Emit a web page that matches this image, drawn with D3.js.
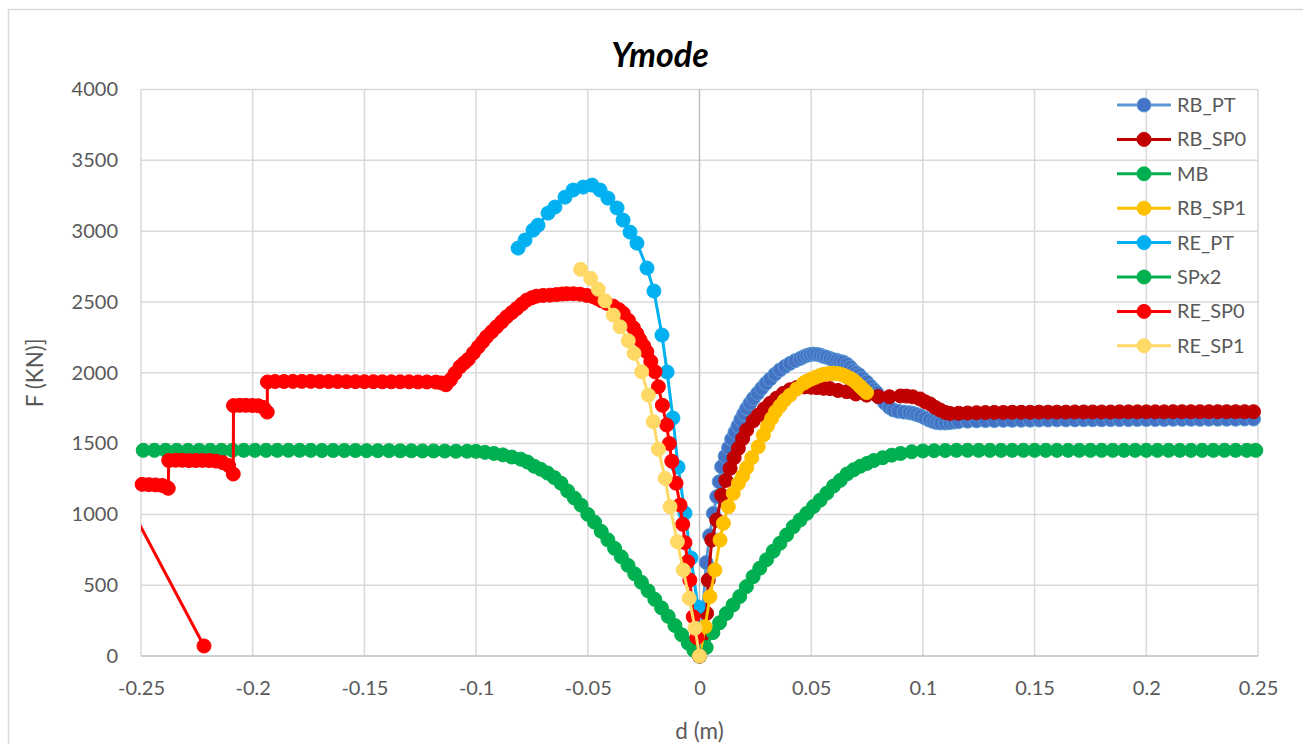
<!DOCTYPE html>
<html>
<head>
<meta charset="utf-8">
<script src="https://cdn.jsdelivr.net/npm/d3@7"></script>
<style>
  body { margin: 0; background: #fff; }
  text { font-family: Lato, "Open Sans", sans-serif; }
</style>
</head>
<body>
<div id="chart"></div>
<script>
// data points: [d (m), F (kN)], in the order they were recorded
const RB_PT = [[0,0],[0.0015,330],[0.003,660],[0.0045,850],[0.0062,1007],[0.0077,1125],[0.0088,1230],[0.0099,1336],
  [0.0115,1410],[0.013,1470],[0.0144,1530],[0.0159,1580],[0.0172,1625],[0.0185,1670],[0.0198,1710],[0.0211,1748],
  [0.0226,1785],[0.0241,1819],[0.026,1855],[0.0278,1890],[0.0297,1925],[0.0316,1955],[0.0338,1990],[0.036,2019],
  [0.0383,2045],[0.0405,2066],[0.0428,2085],[0.045,2100],[0.0465,2112],[0.048,2122],[0.0495,2128],[0.0509,2132],
  [0.0525,2130],[0.054,2125],[0.0555,2115],[0.0569,2110],[0.0585,2100],[0.06,2092],[0.0615,2088],[0.0629,2080],
  [0.0644,2075],[0.066,2060],[0.0675,2040],[0.0688,2015],[0.07,2000],[0.0715,1985],[0.073,1960],[0.0748,1935],
  [0.0765,1905],[0.078,1880],[0.0793,1860],[0.081,1820],[0.083,1785],[0.085,1755],[0.0868,1737],[0.089,1728],
  [0.0915,1722],[0.094,1718],[0.0957,1713],[0.0972,1705],[0.099,1695],[0.101,1680],[0.103,1665],[0.1047,1655],
  [0.1062,1648],[0.108,1645],[0.1101,1645],[0.1121,1648],[0.114,1652],[0.116,1655],[0.12,1658],[0.124,1660],
  [0.128,1662],[0.132,1662],[0.136,1664],[0.14,1664],[0.144,1665],[0.148,1665],[0.152,1666],[0.156,1666],
  [0.16,1667],[0.164,1667],[0.168,1667],[0.172,1668],[0.176,1668],[0.18,1668],[0.184,1669],[0.188,1669],
  [0.192,1669],[0.196,1670],[0.2,1670],[0.204,1670],[0.208,1670],[0.212,1671],[0.216,1671],[0.22,1671],
  [0.224,1671],[0.228,1672],[0.232,1672],[0.236,1672],[0.24,1672],[0.244,1673],[0.248,1673]];

const RB_SP0 = [[0,0],[0.0015,150],[0.0032,301],[0.0039,536],[0.0055,819],[0.0077,960],[0.0099,1136],[0.0118,1240],
  [0.0137,1325],[0.0155,1400],[0.0174,1466],[0.0193,1535],[0.0211,1595],[0.024,1660],[0.0263,1701],[0.029,1745],
  [0.0316,1784],[0.0345,1820],[0.0375,1854],[0.0405,1880],[0.0435,1895],[0.047,1900],[0.05,1898],[0.0525,1895],
  [0.0555,1890],[0.0584,1888],[0.062,1875],[0.0659,1866],[0.07,1850],[0.0748,1842],[0.08,1832],[0.085,1831],
  [0.09,1836],[0.0927,1835],[0.0955,1830],[0.0987,1815],[0.101,1795],[0.1032,1780],[0.1055,1755],[0.1077,1737],
  [0.11,1720],[0.1121,1713],[0.116,1714],[0.12,1716],[0.124,1718],[0.128,1719],[0.132,1720],[0.136,1720],
  [0.14,1721],[0.144,1721],[0.148,1721],[0.152,1722],[0.156,1722],[0.16,1722],[0.164,1722],[0.168,1723],
  [0.172,1723],[0.176,1723],[0.18,1723],[0.184,1723],[0.188,1724],[0.192,1724],[0.196,1724],[0.2,1724],
  [0.204,1724],[0.208,1724],[0.212,1725],[0.216,1725],[0.22,1725],[0.224,1725],[0.228,1725],[0.232,1725],
  [0.236,1725],[0.24,1725],[0.244,1725],[0.248,1725]];

const MB = [[0,0],[0.003,60],[0.006,165],[0.009,235],[0.012,300],[0.015,360],[0.018,420],[0.021,490],[0.024,560],
  [0.027,620],[0.03,680],[0.033,740],[0.036,796],[0.039,855],[0.042,913],[0.045,960],[0.048,1007],[0.051,1055],
  [0.054,1100],[0.057,1150],[0.06,1200],[0.063,1240],[0.066,1285],[0.069,1315],[0.072,1340],[0.075,1360],
  [0.078,1380],[0.082,1400],[0.086,1418],[0.09,1430],[0.095,1442],[0.1,1448],[0.105,1450],[0.11,1451],
  [0.115,1452],[0.12,1452],[0.125,1452],[0.13,1452],[0.135,1452],[0.14,1452],[0.145,1452],[0.15,1452],
  [0.155,1452],[0.16,1452],[0.165,1452],[0.17,1452],[0.175,1452],[0.18,1452],[0.185,1452],[0.19,1452],
  [0.195,1452],[0.2,1452],[0.205,1452],[0.21,1452],[0.215,1452],[0.22,1452],[0.225,1452],[0.23,1452],
  [0.235,1452],[0.24,1452],[0.245,1452],[0.249,1452]];

const RB_SP1 = [[0,0],[0.0025,207],[0.0047,419],[0.0069,607],[0.0092,819],[0.0107,937],[0.0129,1054],[0.0151,1148],
  [0.0174,1219],[0.0193,1270],[0.0211,1330],[0.0234,1400],[0.0263,1478],[0.0286,1560],[0.0305,1625],[0.0323,1678],
  [0.034,1725],[0.036,1765],[0.038,1805],[0.0405,1842],[0.0435,1885],[0.0465,1925],[0.048,1940],[0.05,1955],
  [0.052,1968],[0.0539,1980],[0.0555,1988],[0.057,1992],[0.0585,1995],[0.0599,1996],[0.0615,1994],[0.063,1990],
  [0.0645,1982],[0.0659,1972],[0.0675,1960],[0.0688,1948],[0.0703,1928],[0.0718,1905],[0.0733,1882],[0.0748,1860]];

const RE_PT = [[-0.0812,2880],[-0.0781,2937],[-0.0745,3007],[-0.0723,3042],[-0.0678,3127],[-0.0647,3170],
  [-0.0602,3240],[-0.0566,3290],[-0.0521,3311],[-0.0481,3325],[-0.0445,3290],[-0.041,3233],[-0.0369,3163],
  [-0.0342,3078],[-0.0311,2993],[-0.028,2915],[-0.0235,2739],[-0.0204,2577],[-0.0168,2266],[-0.0145,2005],
  [-0.0119,1680],[-0.0096,1334],[-0.0065,1009],[-0.0038,692],[-0.0007,346],[0,0]];

const SPx2 = [[-0.249,1452],[-0.244,1452],[-0.239,1452],[-0.234,1452],[-0.229,1452],[-0.224,1452],[-0.219,1452],
  [-0.214,1452],[-0.209,1452],[-0.204,1452],[-0.199,1452],[-0.194,1452],[-0.189,1452],[-0.184,1452],[-0.179,1452],
  [-0.174,1452],[-0.169,1451],[-0.164,1451],[-0.159,1451],[-0.154,1451],[-0.149,1450],[-0.144,1450],[-0.139,1450],
  [-0.134,1449],[-0.129,1449],[-0.124,1448],[-0.119,1448],[-0.114,1447],[-0.109,1446],[-0.104,1446],[-0.1,1445],
  [-0.096,1438],[-0.092,1430],[-0.088,1420],[-0.084,1405],[-0.08,1390],[-0.077,1370],[-0.074,1340],[-0.071,1318],
  [-0.068,1292],[-0.065,1260],[-0.062,1220],[-0.059,1165],[-0.056,1115],[-0.053,1065],[-0.05,1000],[-0.047,945],
  [-0.044,880],[-0.041,820],[-0.038,760],[-0.035,700],[-0.032,640],[-0.029,580],[-0.026,520],[-0.023,460],
  [-0.02,400],[-0.017,340],[-0.014,280],[-0.011,215],[-0.008,150],[-0.005,90],[-0.0025,40],[0,0]];

const RE_SP0 = [[-0.2218,71],[-0.26,1207],
  [-0.2495,1212],[-0.2465,1210],[-0.2435,1208],[-0.2405,1204],[-0.2385,1192],[-0.2378,1184],
  [-0.2376,1380],[-0.2345,1382],[-0.2315,1382],[-0.2285,1380],[-0.2255,1380],[-0.2225,1381],[-0.2195,1380],
  [-0.2165,1376],[-0.2135,1366],[-0.2108,1345],[-0.2087,1285],
  [-0.2086,1768],[-0.2058,1770],[-0.203,1770],[-0.2002,1769],[-0.1975,1767],[-0.1952,1755],[-0.1935,1722],
  [-0.1934,1935],[-0.19,1938],[-0.186,1938],[-0.182,1939],[-0.178,1939],[-0.174,1939],[-0.17,1938],[-0.166,1938],
  [-0.162,1938],[-0.158,1937],[-0.154,1937],[-0.15,1937],[-0.146,1937],[-0.142,1936],[-0.138,1936],[-0.134,1936],
  [-0.13,1936],[-0.126,1935],[-0.122,1935],[-0.118,1934],[-0.1155,1928],[-0.1135,1915],
  [-0.1115,1950],[-0.1095,1995],[-0.1072,2042],[-0.1053,2070],[-0.1035,2095],[-0.1012,2140],[-0.099,2183],
  [-0.097,2220],[-0.0953,2254],[-0.093,2290],[-0.0908,2325],[-0.0885,2360],[-0.0863,2395],[-0.084,2425],
  [-0.0818,2454],[-0.0795,2485],[-0.0773,2513],[-0.075,2530],[-0.0729,2541],[-0.07,2546],[-0.0669,2548],
  [-0.064,2552],[-0.0615,2556],[-0.0594,2558],[-0.0565,2558],[-0.0535,2555],[-0.0505,2546],[-0.0475,2536],
  [-0.0455,2522],[-0.0438,2508],[-0.0415,2490],[-0.0386,2470],[-0.036,2445],[-0.0341,2419],[-0.0318,2370],
  [-0.0296,2318],[-0.028,2275],[-0.0266,2231],[-0.025,2190],[-0.0236,2148],[-0.0218,2080],[-0.0199,2007],
  [-0.0184,1901],[-0.0166,1770],[-0.0147,1631],[-0.0135,1500],[-0.0124,1375],[-0.0105,1220],[-0.0087,1066],
  [-0.0075,930],[-0.0065,800],[-0.0053,665],[-0.0043,536],[-0.0028,277],[-0.0012,130],[0,0]];

const RE_SP1 = [[-0.0532,2730],[-0.0487,2666],[-0.0453,2589],[-0.0423,2508],[-0.0386,2407],[-0.0356,2325],
  [-0.0319,2226],[-0.0293,2137],[-0.0259,2007],[-0.0229,1842],[-0.0207,1654],[-0.0184,1460],[-0.0154,1254],
  [-0.0132,1054],[-0.0099,807],[-0.0073,607],[-0.0046,407],[-0.002,196],[0,0]];

const seriesNames = ["RB_PT", "RB_SP0", "MB", "RB_SP1", "RE_PT", "SPx2", "RE_SP0", "RE_SP1"];
const seriesData = [RB_PT, RB_SP0, MB, RB_SP1, RE_PT, SPx2, RE_SP0, RE_SP1];
const xTicks = [-0.25, -0.2, -0.15, -0.1, -0.05, 0, 0.05, 0.1, 0.15, 0.2, 0.25];
const yTicks = [0, 500, 1000, 1500, 2000, 2500, 3000, 3500, 4000];

(function () {
    // line colour, marker fill, marker edge
    var styles = [
        { line: "#5B9BD5", fill: "#4472C4", edge: "#5B9BD5" },
        { line: "#C00000", fill: "#C00000", edge: "#C00000" },
        { line: "#00B050", fill: "#00B050", edge: "#00B050" },
        { line: "#FFC000", fill: "#FFC000", edge: "#FFC000" },
        { line: "#00B0F0", fill: "#00B0F0", edge: "#00B0F0" },
        { line: "#00B050", fill: "#00B050", edge: "#00B050" },
        { line: "#FF0000", fill: "#FF0000", edge: "#FF0000" },
        { line: "#FFD966", fill: "#FFD966", edge: "#FFD966" }
    ];

    var width = 1303, height = 744;
    var pLeft = 141, pRight = 1258, pTop = 89.5, pBottom = 656;
    var markR = 7;

    var svg = d3.select("#chart").append("svg")
        .attr("width", width)
        .attr("height", height);

    // chart frame
    svg.append("rect")
        .attr("x", 8.5).attr("y", 9.5)
        .attr("width", 1320).attr("height", 760)
        .attr("fill", "#fff")
        .attr("stroke", "#d9d9d9")
        .attr("stroke-width", 1.5);

    var x = d3.scaleLinear().domain([-0.25, 0.25]).range([pLeft, pRight]);
    var y = d3.scaleLinear().domain([0, 4000]).range([pBottom, pTop]);

    // grid
    svg.append("g").selectAll("line")
        .data(yTicks.filter(d => d !== 0))
        .enter().append("line")
        .attr("x1", pLeft).attr("x2", pRight)
        .attr("y1", d => y(d)).attr("y2", d => y(d))
        .attr("stroke", "#d9d9d9").attr("stroke-width", 1.5);

    svg.append("g").selectAll("line")
        .data(xTicks.filter(d => d !== 0))
        .enter().append("line")
        .attr("x1", d => x(d)).attr("x2", d => x(d))
        .attr("y1", pTop).attr("y2", pBottom)
        .attr("stroke", "#d9d9d9").attr("stroke-width", 1.5);

    // axis lines crossing at zero
    svg.append("line")
        .attr("x1", pLeft).attr("x2", pRight)
        .attr("y1", y(0)).attr("y2", y(0))
        .attr("stroke", "#bfbfbf").attr("stroke-width", 1.5);
    svg.append("line")
        .attr("x1", x(0)).attr("x2", x(0))
        .attr("y1", pTop).attr("y2", pBottom)
        .attr("stroke", "#bfbfbf").attr("stroke-width", 1.5);

    var xAxis = svg.append("g")
        .attr("transform", "translate(0," + pBottom + ")")
        .call(d3.axisBottom(x).tickValues(xTicks).tickSize(0).tickPadding(25)
            .tickFormat(d => String(+d.toFixed(2))));
    var yAxis = svg.append("g")
        .attr("transform", "translate(" + pLeft + ",0)")
        .call(d3.axisLeft(y).tickValues(yTicks).tickSize(0).tickPadding(23)
            .tickFormat(d3.format("d")));

    [xAxis, yAxis].forEach(function (g) {
        g.select(".domain").remove();
        g.selectAll("text")
            .attr("fill", "#595959")
            .style("font-size", "20px")
            .style("font-family", "Lato, sans-serif");
    });

    // clip lines to plot area (markers are not clipped)
    svg.append("clipPath").attr("id", "plot")
        .append("rect")
        .attr("x", pLeft).attr("y", pTop)
        .attr("width", pRight - pLeft).attr("height", pBottom - pTop);

    var line = d3.line()
        .x(d => x(d[0]))
        .y(d => y(d[1]));

    seriesData.forEach(function (data, i) {
        var g = svg.append("g").attr("class", "series");
        g.append("path")
            .datum(data)
            .attr("clip-path", "url(#plot)")
            .attr("fill", "none")
            .attr("stroke", styles[i].line)
            .attr("stroke-width", 3)
            .attr("stroke-linejoin", "round")
            .attr("d", line);
        g.selectAll("circle")
            .data(data.filter(d => d[0] >= -0.25 && d[0] <= 0.25))
            .enter().append("circle")
            .attr("cx", d => x(d[0]))
            .attr("cy", d => y(d[1]))
            .attr("r", markR)
            .attr("fill", styles[i].fill)
            .attr("stroke", styles[i].edge)
            .attr("stroke-width", 1);
    });

    // legend
    var legend = svg.append("g").selectAll("g")
        .data(seriesNames)
        .enter().append("g")
        .attr("transform", (d, i) => "translate(1117," + (105 + i * 34.4) + ")");

    legend.append("line")
        .attr("x1", 0).attr("x2", 54)
        .attr("stroke", (d, i) => styles[i].line)
        .attr("stroke-width", 3);
    legend.append("circle")
        .attr("cx", 27).attr("r", markR)
        .attr("fill", (d, i) => styles[i].fill)
        .attr("stroke", (d, i) => styles[i].edge);
    legend.append("text")
        .attr("x", 60).attr("dy", "0.35em")
        .attr("fill", "#595959")
        .style("font-size", "20px")
        .text(d => d);

    // titles
    svg.append("text")
        .attr("x", 660).attr("y", 67)
        .attr("text-anchor", "middle")
        .style("font-size", "34px")
        .style("font-weight", "bold")
        .style("font-style", "italic")
        .attr("fill", "#000")
        .text("Ymode");

    svg.append("text")
        .attr("x", (pLeft + pRight) / 2).attr("y", 739)
        .attr("text-anchor", "middle")
        .attr("fill", "#595959")
        .style("font-size", "22.5px")
        .text("d (m)");

    svg.append("text")
        .attr("transform", "translate(43," + ((pTop + pBottom) / 2) + ") rotate(-90)")
        .attr("text-anchor", "middle")
        .attr("fill", "#595959")
        .style("font-size", "22.5px")
        .text("F (KN)]");
})();
</script>
</body>
</html>
